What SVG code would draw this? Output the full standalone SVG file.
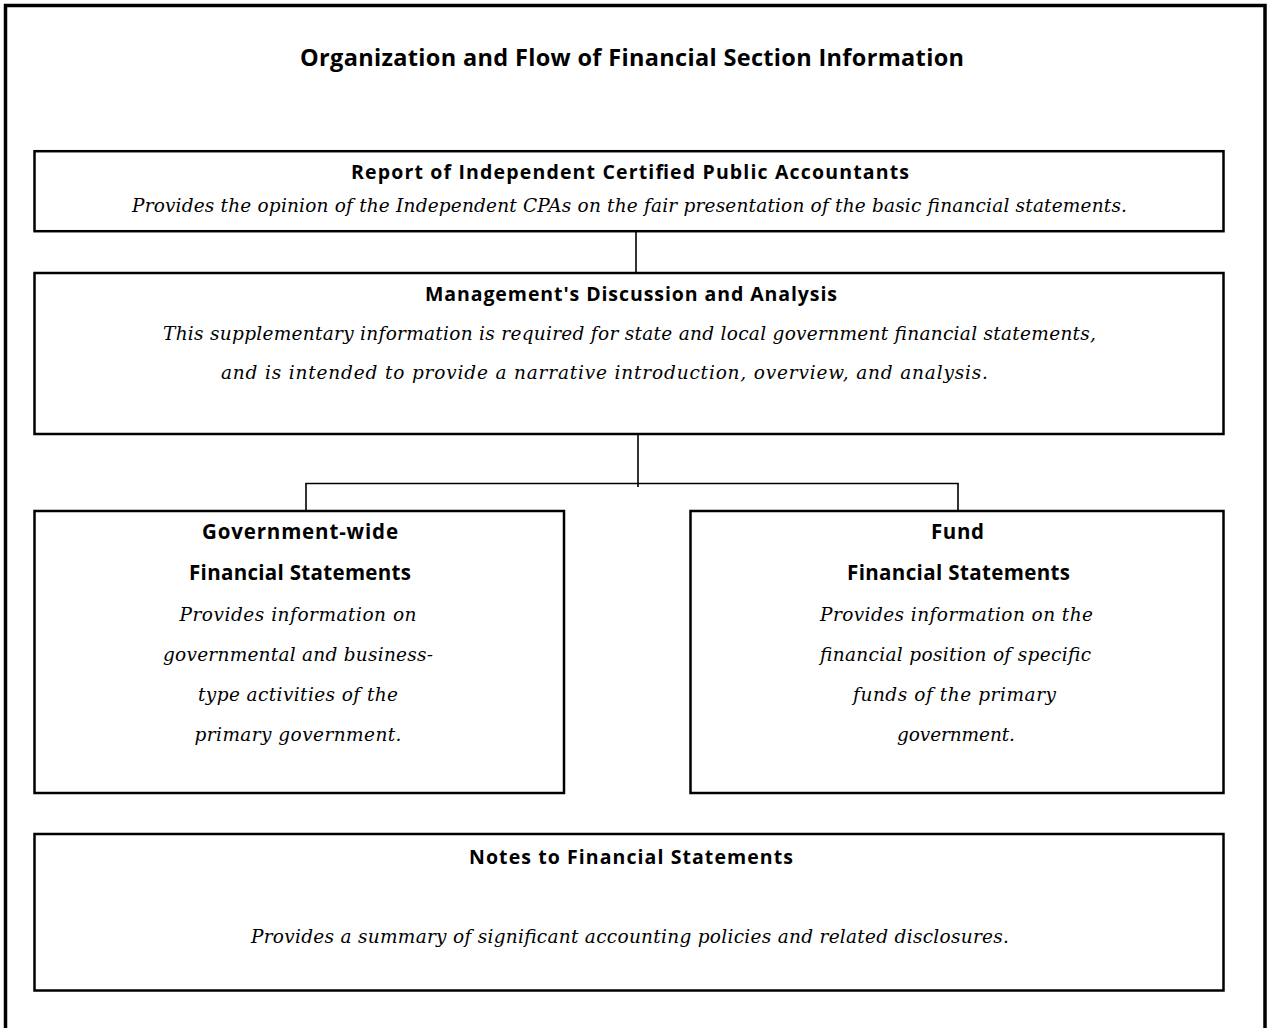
<svg xmlns="http://www.w3.org/2000/svg" width="1267" height="1028" viewBox="0 0 1267 1028">
  <style>
    .frame { fill: none; stroke: #000; stroke-width: 3.5; }
    .box { fill: #fff; stroke: #000; stroke-width: 2.5; }
    .link { fill: none; stroke: #000; stroke-width: 1.6; }
    .title { font-family: "Open Sans", "Liberation Sans", sans-serif; font-weight: 700; font-size: 23.5px; fill: #000; text-anchor: middle; }
    .head { font-family: "Open Sans", "Liberation Sans", sans-serif; font-weight: 700; font-size: 19.5px; fill: #000; text-anchor: middle; }
    .head2 { font-family: "Open Sans", "Liberation Sans", sans-serif; font-weight: 700; font-size: 20.5px; fill: #000; text-anchor: middle; }
    .desc { font-family: "DejaVu Serif", "Liberation Serif", serif; font-style: italic; font-size: 18.5px; fill: #000; text-anchor: middle; }
  </style>

  <rect width="1267" height="1028" fill="#fff"/>
  <!-- page frame (open at the bottom edge) -->
  <rect class="frame" x="5.5" y="5.5" width="1259.5" height="1040"/>

  <text class="title" x="632" y="65.5" textLength="664">Organization and Flow of Financial Section Information</text>

  <!-- connectors -->
  <g id="connectors">
    <line class="link" x1="636" y1="232" x2="636" y2="272"/>
    <line class="link" x1="638" y1="435" x2="638" y2="487"/>
    <line class="link" x1="305.5" y1="483.5" x2="958.5" y2="483.5"/>
    <line class="link" x1="306" y1="483" x2="306" y2="510"/>
    <line class="link" x1="958" y1="483" x2="958" y2="510"/>
  </g>

  <g id="report">
    <rect class="box" x="34.5" y="151.2" width="1189" height="80"/>
    <text class="head" x="630" y="179" textLength="558">Report of Independent Certified Public Accountants</text>
    <text class="desc" x="629.5" y="212" textLength="995">Provides the opinion of the Independent CPAs on the fair presentation of the basic financial statements.</text>
  </g>

  <g id="mdna">
    <rect class="box" x="34.5" y="273" width="1189" height="161"/>
    <text class="head" x="631" y="301" textLength="412">Management's Discussion and Analysis</text>
    <text class="desc" x="629.5" y="340" textLength="933">This supplementary information is required for state and local government financial statements,</text>
    <text class="desc" x="604.5" y="379" textLength="767">and is intended to provide a narrative introduction, overview, and analysis.</text>
  </g>

  <g id="government-wide">
    <rect class="box" x="34.5" y="511" width="529.5" height="282"/>
    <text class="head2" x="300" y="539" textLength="196">Government-wide</text>
    <text class="head2" x="300" y="580" textLength="222">Financial Statements</text>
    <text class="desc" x="298" y="621" textLength="237">Provides information on</text>
    <text class="desc" x="298" y="661" textLength="270">governmental and business-</text>
    <text class="desc" x="298" y="701" textLength="200">type activities of the</text>
    <text class="desc" x="298" y="741" textLength="207">primary government.</text>
  </g>

  <g id="fund">
    <rect class="box" x="690.5" y="511" width="533" height="282"/>
    <text class="head2" x="957.5" y="539" textLength="53">Fund</text>
    <text class="head2" x="958.5" y="580" textLength="223">Financial Statements</text>
    <text class="desc" x="956.5" y="621" textLength="273">Provides information on the</text>
    <text class="desc" x="955.5" y="661" textLength="271">financial position of specific</text>
    <text class="desc" x="954.5" y="701" textLength="203">funds of the primary</text>
    <text class="desc" x="956" y="741" textLength="118">government.</text>
  </g>

  <g id="notes">
    <rect class="box" x="34.5" y="834" width="1189" height="156.5"/>
    <text class="head" x="631" y="864" textLength="324">Notes to Financial Statements</text>
    <text class="desc" x="630" y="943" textLength="758">Provides a summary of significant accounting policies and related disclosures.</text>
  </g>
</svg>
